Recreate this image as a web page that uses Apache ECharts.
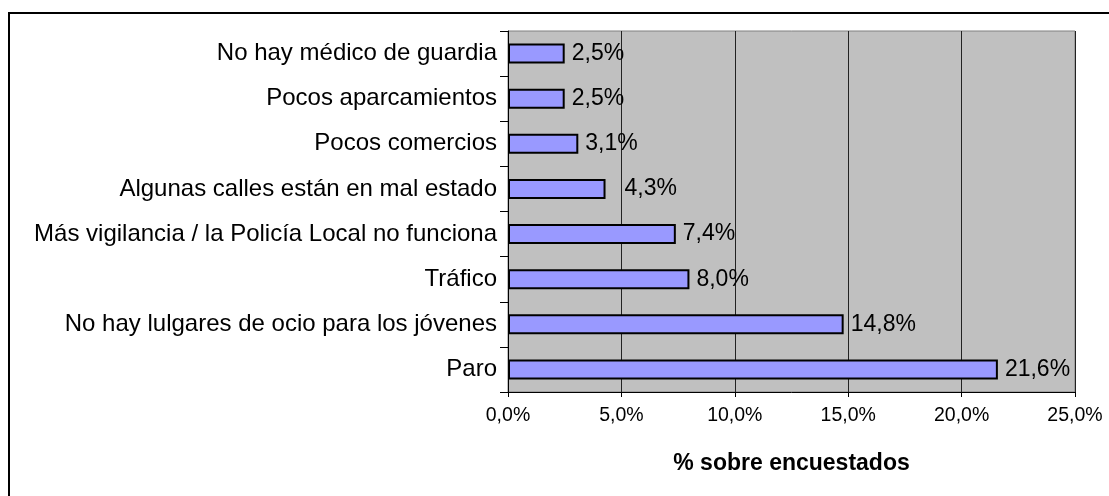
<!DOCTYPE html>
<html>
<head>
<meta charset="utf-8">
<script src="https://cdn.jsdelivr.net/npm/echarts@6/dist/echarts.min.js"></script>
<style>html,body{margin:0;padding:0;background:#fff;}#c{width:1109px;height:496px;}</style>
</head>
<body>
<div id="c"></div>
<script>
const categories = [
  'No hay médico de guardia',
  'Pocos aparcamientos',
  'Pocos comercios',
  'Algunas calles están en mal estado',
  'Más vigilancia / la Policía Local no funciona',
  'Tráfico',
  'No hay lulgares de ocio para los jóvenes',
  'Paro'
];
const values = [2.5, 2.5, 3.1, 4.3, 7.4, 8.0, 14.8, 21.6];
const axisMin = 0, axisMax = 25, axisStep = 5;
const axisTitle = '% sobre encuestados';

const fmt = v => v.toFixed(1).replace('.', ',') + '%';
const chart = echarts.init(document.getElementById('c'), null, {renderer: 'canvas'});
chart.setOption({
  animation: false,
  backgroundColor: '#fff',
  graphic: [{
    type: 'rect', shape: {x: 9, y: 13, width: 1200, height: 600},
    style: {fill: 'none', stroke: '#000', lineWidth: 2}, silent: true, z: 100
  }],
  grid: {left: 508, right: 34, top: 31, bottom: 104, show: true,
    backgroundColor: '#C0C0C0', borderColor: '#808080', borderWidth: 1},
  xAxis: {
    type: 'value', min: axisMin, max: axisMax, interval: axisStep,
    name: axisTitle, nameLocation: 'middle', nameGap: 60,
    nameTextStyle: {fontFamily: 'Liberation Sans', fontSize: 23, fontWeight: 'bold', color: '#000'},
    axisLine: {show: true, lineStyle: {color: '#000', width: 1}},
    axisTick: {show: true, length: 5, lineStyle: {color: '#000'}},
    axisLabel: {formatter: fmt, fontFamily: 'Liberation Sans', fontSize: 19.5, color: '#000', margin: 14},
    splitLine: {show: true, lineStyle: {color: '#222', width: 1}}
  },
  yAxis: {
    type: 'category', data: categories, inverse: true,
    axisLine: {show: true, lineStyle: {color: '#000', width: 1}},
    axisTick: {show: true, length: 8, lineStyle: {color: '#000'}},
    axisLabel: {fontFamily: 'Liberation Sans', fontSize: 24, color: '#000', margin: 11},
    splitLine: {show: false}
  },
  series: [{
    type: 'bar', barWidth: 20,
    data: values.map((v, i) => i === 3 ? {value: v, label: {distance: 19}} : v),
    itemStyle: {color: '#9999FF', borderColor: '#000', borderWidth: 2},
    label: {show: true, position: 'right', distance: 7, formatter: p => fmt(p.value),
      fontFamily: 'Liberation Sans', fontSize: 23, color: '#000'}
  }]
});
</script>
</body>
</html>
